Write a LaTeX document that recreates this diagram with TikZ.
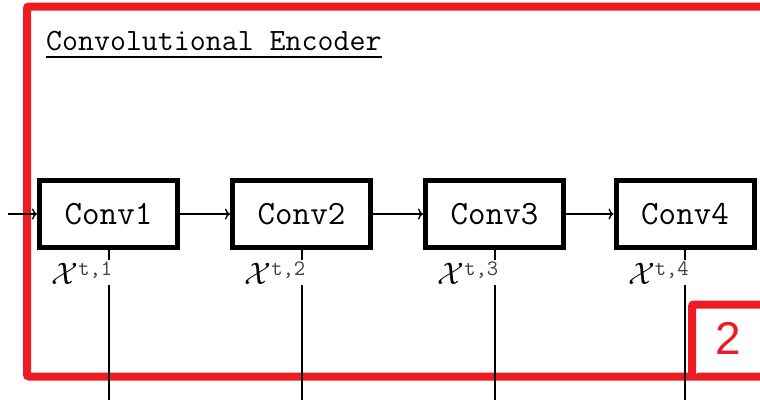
\documentclass[tikz,border=0pt]{standalone}
\usepackage{graphicx}
\usepackage{fontspec}
\usetikzlibrary{arrows.meta}
\newfontfamily\labelsans{Liberation Sans}
\definecolor{encred}{RGB}{237,28,36}
% feature-map label: calligraphic X with a typewriter superscript
\newcommand{\featlabel}[1]{\scalebox{1.5}{$\mathcal{X}$}\raisebox{9pt}{\fontsize{22}{22}\selectfont\ttfamily\color{black!75}t,#1}}
\begin{document}
\begin{tikzpicture}[x=1pt,y=-1pt,
  convbox/.style={draw=black,line width=5pt,minimum width=138pt,minimum height=67pt,
    inner sep=0pt,font=\fontsize{34}{36}\selectfont\ttfamily},
  flow/.style={-{To[length=5pt,width=11pt,line width=1.4pt]},line width=1.5pt},
  tap/.style={line width=2pt},
  featlbl/.style={fill=white,inner sep=1pt,font=\fontsize{20}{22}\selectfont},
  frame/.style={draw=encred,line width=8pt,rounded corners=2pt}]
\useasboundingbox (0,0) rectangle (760,400);
% encoder frame and stage-number tag
\draw[frame] (800,6.5) -- (27,6.5) -- (27,376.5) -- (800,376.5);
\draw[frame,fill=white] (800,304.5) -- (692,304.5) -- (692,376.5);
\node[text=encred,font=\fontsize{46}{50}\selectfont\labelsans] (tag) at (728,338) {2};
% title
\node[anchor=base west,inner sep=0pt,font=\fontsize{31}{33}\selectfont\ttfamily] (title) at (46,50) {Convolutional Encoder};
\draw[line width=1.5pt] ([yshift=-7pt]title.base west) -- ([yshift=-7pt]title.base east);
% convolution stages
\node[convbox] (c1) at (108.5,214) {Conv1};
\node[convbox] (c2) at (301.5,214) {Conv2};
\node[convbox] (c3) at (494.5,214) {Conv3};
\node[convbox] (c4) at (685,214) {Conv4};
\coordinate (in) at (8,214);
\draw[flow] (in) -- (c1.west);
\draw[flow] (c1.east) -- (c2.west);
\draw[flow] (c2.east) -- (c3.west);
\draw[flow] (c3.east) -- (c4.west);
% feature taps leaving each stage
\foreach \i in {1,...,4}{
  \coordinate (o\i) at (c\i.south |- 0,400);
  \draw[tap] (c\i.south) -- (o\i);
  \node[featlbl,anchor=base east] (x\i) at ([xshift=5pt]c\i.south |- 0,284) {\featlabel{\i}};
}
\end{tikzpicture}
\end{document}
